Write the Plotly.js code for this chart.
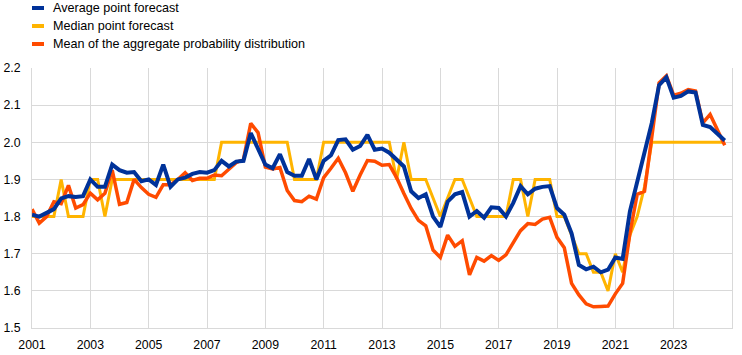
<!DOCTYPE html>
<html>
<head>
<meta charset="utf-8">
<script src="https://cdn.plot.ly/plotly-3.0.1.min.js"></script>
<style>
  html, body { margin: 0; padding: 0; background: #fff; }
  #chart { width: 742px; height: 355px; }
</style>
</head>
<body>
<div id="chart"></div>
<script>
// Quarterly observations, 2001Q1 .. 2024Q4
const startYear = 2001;
const seriesNames = [
  "Average point forecast",
  "Median point forecast",
  "Mean of the aggregate probability distribution"
];

const averagePoint = [
  1.805, 1.800, 1.810, 1.820,   // 2001
  1.849, 1.855, 1.853, 1.855,   // 2002
  1.900, 1.880, 1.880, 1.940,   // 2003
  1.925, 1.918, 1.920, 1.895,   // 2004
  1.900, 1.885, 1.940, 1.880,   // 2005
  1.900, 1.905, 1.915, 1.920,   // 2006
  1.918, 1.925, 1.950, 1.935,   // 2007
  1.948, 1.950, 2.025, 1.985,   // 2008
  1.940, 1.930, 1.968, 1.920,   // 2009
  1.910, 1.910, 1.955, 1.900,   // 2010
  1.950, 1.965, 2.006, 2.008,   // 2011
  1.980, 1.990, 2.020, 1.980,   // 2012
  1.983, 1.972, 1.955, 1.935,   // 2013
  1.868, 1.850, 1.860, 1.800,   // 2014
  1.772, 1.840, 1.860, 1.866,   // 2015
  1.800, 1.815, 1.797, 1.825,   // 2016
  1.823, 1.800, 1.837, 1.882,   // 2017
  1.860, 1.875, 1.880, 1.882,   // 2018
  1.823, 1.805, 1.755, 1.670,   // 2019
  1.658, 1.665, 1.650, 1.657,   // 2020
  1.690, 1.686, 1.814, 1.896,   // 2021
  1.968, 2.052, 2.154, 2.175,   // 2022
  2.120, 2.125, 2.137, 2.134,   // 2023
  2.047, 2.041, 2.023, 2.005    // 2024
];

const medianPoint = [
  1.80, 1.80, 1.80, 1.80,   // 2001
  1.90, 1.80, 1.80, 1.80,   // 2002
  1.90, 1.90, 1.80, 1.90,   // 2003
  1.90, 1.90, 1.90, 1.90,   // 2004
  1.90, 1.90, 1.90, 1.90,   // 2005
  1.90, 1.90, 1.90, 1.90,   // 2006
  1.90, 1.90, 2.00, 2.00,   // 2007
  2.00, 2.00, 2.00, 2.00,   // 2008
  2.00, 2.00, 2.00, 2.00,   // 2009
  1.90, 1.90, 1.90, 1.90,   // 2010
  2.00, 2.00, 2.00, 2.00,   // 2011
  2.00, 2.00, 2.00, 2.00,   // 2012
  2.00, 2.00, 1.90, 2.00,   // 2013
  1.90, 1.90, 1.90, 1.85,   // 2014
  1.80, 1.85, 1.90, 1.90,   // 2015
  1.85, 1.80, 1.80, 1.80,   // 2016
  1.80, 1.80, 1.90, 1.90,   // 2017
  1.80, 1.90, 1.90, 1.90,   // 2018
  1.80, 1.80, 1.75, 1.70,   // 2019
  1.70, 1.65, 1.65, 1.60,   // 2020
  1.70, 1.65, 1.75, 1.80,   // 2021
  1.88, 2.00, 2.00, 2.00,   // 2022
  2.00, 2.00, 2.00, 2.00,   // 2023
  2.00, 2.00, 2.00, 2.00    // 2024
];

const meanDistribution = [
  1.820, 1.782, 1.800, 1.840,   // 2001
  1.835, 1.884, 1.823, 1.832,   // 2002
  1.863, 1.845, 1.863, 1.925,   // 2003
  1.833, 1.838, 1.900, 1.878,   // 2004
  1.860, 1.852, 1.886, 1.886,   // 2005
  1.900, 1.918, 1.897, 1.903,   // 2006
  1.903, 1.912, 1.910, 1.929,   // 2007
  1.945, 1.954, 2.051, 2.026,   // 2008
  1.933, 1.928, 1.932, 1.870,   // 2009
  1.843, 1.840, 1.855, 1.847,   // 2010
  1.905, 1.930, 1.957, 1.918,   // 2011
  1.868, 1.912, 1.951, 1.949,   // 2012
  1.938, 1.940, 1.905, 1.862,   // 2013
  1.822, 1.790, 1.775, 1.710,   // 2014
  1.690, 1.750, 1.720, 1.735,   // 2015
  1.643, 1.690, 1.680, 1.695,   // 2016
  1.682, 1.697, 1.729, 1.762,   // 2017
  1.781, 1.779, 1.793, 1.798,   // 2018
  1.744, 1.716, 1.620, 1.589,   // 2019
  1.565, 1.557, 1.558, 1.559,   // 2020
  1.592, 1.620, 1.755, 1.860,   // 2021
  1.868, 2.010, 2.160, 2.179,   // 2022
  2.127, 2.132, 2.142, 2.138,   // 2023
  2.052, 2.075, 2.035, 1.992    // 2024
];

const xTickVals = [2001, 2003, 2005, 2007, 2009, 2011, 2013, 2015, 2017, 2019, 2021, 2023, 2025];
const xTickText = ["2001", "2003", "2005", "2007", "2009", "2011", "2013", "2015", "2017", "2019", "2021", "2023", ""];
const yTickVals = [1.5, 1.6, 1.7, 1.8, 1.9, 2.0, 2.1, 2.2];

const colors = ["#003299", "#FFB400", "#FF4B00"];
const widths = [4, 3, 3.5];

const xQuarters = averagePoint.map((_, i) => startYear + i / 4);

const seriesValues = [averagePoint, medianPoint, meanDistribution];
// draw order: median, mean, average (average on top)
const drawOrder = [1, 2, 0];
const traces = drawOrder.map(k => ({
  type: "scatter",
  mode: "lines",
  name: seriesNames[k],
  x: xQuarters,
  y: seriesValues[k],
  line: { color: colors[k], width: widths[k], shape: "linear" },
  hoverinfo: "skip",
  showlegend: false
}));

// Page geometry
const W = 742, H = 355;
const mL = 32, mR = 10, mT = 68, mB = 27;
const plotW = W - mL - mR, plotH = H - mT - mB;
const px2x = px => (px - mL) / plotW;
const py2y = py => (H - mB - py) / plotH;

const fontFam = "Arial, 'Liberation Sans', sans-serif";

// Custom legend (short thick swatches like the reference)
const legendRows = [8, 26, 44];
const shapes = [];
const annotations = [];
seriesNames.forEach((name, k) => {
  shapes.push({
    type: "line", xref: "paper", yref: "paper",
    x0: px2x(32), x1: px2x(44), y0: py2y(legendRows[k]), y1: py2y(legendRows[k]),
    line: { color: colors[k], width: 4 }
  });
  annotations.push({
    xref: "paper", yref: "paper",
    x: px2x(51), y: py2y(legendRows[k]),
    xanchor: "left", yanchor: "middle",
    text: name, showarrow: false,
    font: { family: fontFam, size: 12.6, color: "#000" }
  });
});

const layout = {
  width: W, height: H,
  margin: { l: mL, r: mR, t: mT, b: mB, pad: 0 },
  paper_bgcolor: "#fff",
  plot_bgcolor: "#fff",
  showlegend: false,
  font: { family: fontFam, size: 12, color: "#000" },
  xaxis: {
    range: [2001, 2025],
    tickmode: "array",
    tickvals: xTickVals,
    ticktext: xTickText,
    showgrid: true,
    gridcolor: "#d9d9d9",
    gridwidth: 1,
    zeroline: false,
    showline: true,
    linecolor: "#d9d9d9",
    linewidth: 1,
    ticks: "",
    ticklabelstandoff: 5,
    tickfont: { size: 12.3, color: "#000" }
  },
  yaxis: {
    range: [1.5, 2.2],
    tickmode: "array",
    tickvals: yTickVals,
    tickformat: ".1f",
    showgrid: true,
    gridcolor: "#d9d9d9",
    gridwidth: 1,
    zeroline: false,
    showline: true,
    mirror: true,
    linecolor: "#d9d9d9",
    linewidth: 1,
    ticks: "",
    ticklabelstandoff: 8,
    tickfont: { size: 12.3, color: "#000" }
  },
  shapes: shapes,
  annotations: annotations
};

Plotly.newPlot("chart", traces, layout, { staticPlot: true, displayModeBar: false });
</script>
</body>
</html>
